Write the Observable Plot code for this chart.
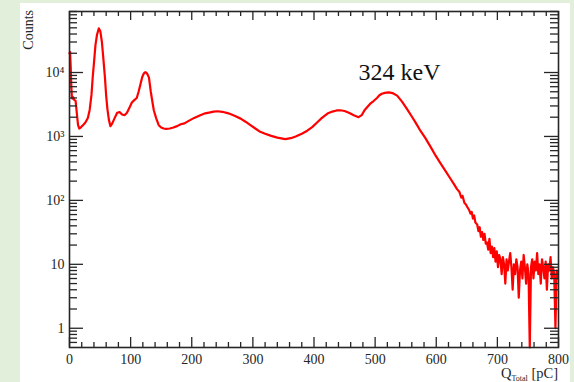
<!DOCTYPE html>
<html>
<head>
<meta charset="utf-8">
<script src="https://cdn.jsdelivr.net/npm/d3@7"></script>
<script src="https://cdn.jsdelivr.net/npm/@observablehq/plot@0.6"></script>
<style>
  html, body { margin: 0; padding: 0; }
  body { width: 574px; height: 382px; background: #e2efda; position: relative; overflow: hidden; }
  #panel { position: absolute; left: 20px; top: 3px; width: 550px; height: 379px; background: #ffffff; }
  #panel svg { display: block; }
  #panel svg text { font-family: "Liberation Serif", "DejaVu Serif", serif; }
</style>
</head>
<body>
<div id="panel"></div>
<script>
// Q_Total [pC] sample positions
const q = [0,1,2,3,4,5,6,8,10,12,14,16,19,22,26,30,33,36,38,40,42.5,45,48,50.5,53,55.5,58,60,62,64.5,67,70,74,78,82,86,90,94,98,102,106,110,113,116,119,122,124,126,128,130,133,136,138,142,146,150,154,158,164,170,176,182,188,195,204,214,222,230,236,242,250,260,270,280,288,296,304,312,320,330,340,353,362,370,380,389,397,405,413,422,430,437,443,450,458,465,473,478,483,488,492,497,503,507,511,516,522,529,536,544,552,560,567,574,582,591,599,607,615,623,629,634,638,641,643,646,649,651,654,656,658,660,662,664,667,669,671,673,675,677,679,681,683,685,687,689,691,693,695,697,699,701,703,705,707,709,711,713,715,717,719,721,723,725,727,729,731,733,735,737,739,741,743,745,747,749,751,753,755,757,759,761,763,765,767,769,771,773,775,777,779,781,783,785,787,789,791,793,795,797,799];
// Counts at each position
const counts = [20000,21000,12000,6000,4000,3900,4100,3700,3600,2300,1500,1330,1400,1500,1650,1950,2600,4500,8500,14000,27000,39000,49000,44000,30000,16000,8300,4300,2700,1800,1450,1600,1950,2350,2400,2200,2150,2350,2800,3400,3700,4000,5000,6500,8500,9800,10100,9900,9200,8300,5000,3300,2550,1900,1500,1380,1330,1310,1330,1380,1450,1550,1600,1750,1950,2150,2300,2380,2450,2480,2430,2300,2100,1900,1700,1500,1330,1180,1100,1020,960,910,940,1000,1100,1230,1400,1650,1950,2280,2450,2550,2570,2500,2320,2150,2000,2150,2600,2950,3250,3550,4000,4400,4650,4800,4900,4750,4350,3500,2700,2050,1600,1230,950,680,500,380,290,220,180,150,135,110,118,92,85,78,70,62,66,52,58,45,42,33,38,27,32,24,30,21,22,17,25,15,19,13,18,11,16,9,14,12,7,13,10,5,12,8,11,15,9,4,10,7,12,9,3,8,11,6,14,9,5,10,7,0,9,12,6,11,8,15,7,10,5,12,9,6,11,4,10,8,13,6,9,7,1,8,6];

const xMajorTicks = [0,100,200,300,400,500,600,700,800];
const xTickLabels = ["0","100","200","300","400","500","600","700","800"];
const xMinorTicks = d3.range(0, 801, 20).filter(v => v % 100 !== 0);
const yMajorTicks = [1,10,100,1000,10000];
const yTickLabels = ["1","10","10²","10³","10⁴"];
const yMinorTicks = [0.6,0.7,0.8,0.9].concat(
  ...[1,10,100,1000,10000].map(dec => [2,3,4,5,6,7,8,9].map(m => m*dec))
).filter(v => v <= 90000);

const annotation = [{q: 540, c: 10000, label: "324 keV"}];

const data = q.map((x, i) => ({q: x, c: counts[i]}));

const W = 550, H = 379, ML = 49, MR = 12, MT = 8, MB = 35;
const FW = W - ML - MR, FH = H - MT - MB;
const ink = "#262626";
const serif = "Liberation Serif";

const chart = Plot.plot({
  width: W, height: H,
  marginLeft: ML, marginRight: MR, marginTop: MT, marginBottom: MB,
  style: {fontFamily: serif, fontSize: "13.5px", background: "white", color: ink},
  x: {domain: [0, 800], axis: null},
  y: {type: "log", domain: [0.5, 90000], clamp: true, axis: null},
  marks: [
    Plot.line(data, {x: "q", y: "c", stroke: "#ff0000", strokeWidth: 2.2, curve: "linear"}),
    Plot.frame({stroke: ink, strokeWidth: 1.6}),
    // bottom ticks (inward)
    Plot.tickX(xMajorTicks, {x: d => d, insetTop: FH - 10, stroke: ink, strokeWidth: 1.3}),
    Plot.tickX(xMinorTicks, {x: d => d, insetTop: FH - 5, stroke: ink, strokeWidth: 1.3}),
    // top ticks (inward)
    Plot.tickX(xMajorTicks, {x: d => d, insetBottom: FH - 9, stroke: ink, strokeWidth: 1.3}),
    Plot.tickX(xMinorTicks, {x: d => d, insetBottom: FH - 5, stroke: ink, strokeWidth: 1.3}),
    // left ticks
    Plot.tickY(yMajorTicks, {y: d => d, insetRight: FW - 14, stroke: ink, strokeWidth: 1.3}),
    Plot.tickY(yMinorTicks, {y: d => d, insetRight: FW - 8, stroke: ink, strokeWidth: 1.3}),
    // right ticks
    Plot.tickY(yMajorTicks, {y: d => d, insetLeft: FW - 14, stroke: ink, strokeWidth: 1.3}),
    Plot.tickY(yMinorTicks, {y: d => d, insetLeft: FW - 8, stroke: ink, strokeWidth: 1.3}),
    // tick labels
    Plot.text(xMajorTicks, {x: d => d, frameAnchor: "bottom", dy: 12, text: (d, i) => xTickLabels[i], fill: ink, fontSize: 14, lineAnchor: "middle"}),
    Plot.text(yMajorTicks, {y: d => d, frameAnchor: "left", dx: -5, textAnchor: "end", text: (d, i) => yTickLabels[i], fill: ink, fontSize: 14}),
    // annotation
    Plot.text(annotation, {x: "q", y: "c", text: "label", fontSize: 24, fill: "#111"})
  ]
});

const svg = d3.select(chart);
// y-axis title
svg.append("text")
  .attr("transform", "translate(13,7) rotate(-90)")
  .attr("text-anchor", "end")
  .attr("font-size", 14)
  .attr("fill", ink)
  .text("Counts");
// x-axis title with subscript
const xt = svg.append("text")
  .attr("x", W - MR)
  .attr("y", 375)
  .attr("text-anchor", "end")
  .attr("font-size", 14.5)
  .attr("fill", ink);
xt.append("tspan").text("Q");
xt.append("tspan").attr("font-size", 8).attr("dy", 3).text("Total");
xt.append("tspan").attr("dy", -3).text(" [pC]");

document.getElementById("panel").appendChild(chart);
</script>
</body>
</html>
